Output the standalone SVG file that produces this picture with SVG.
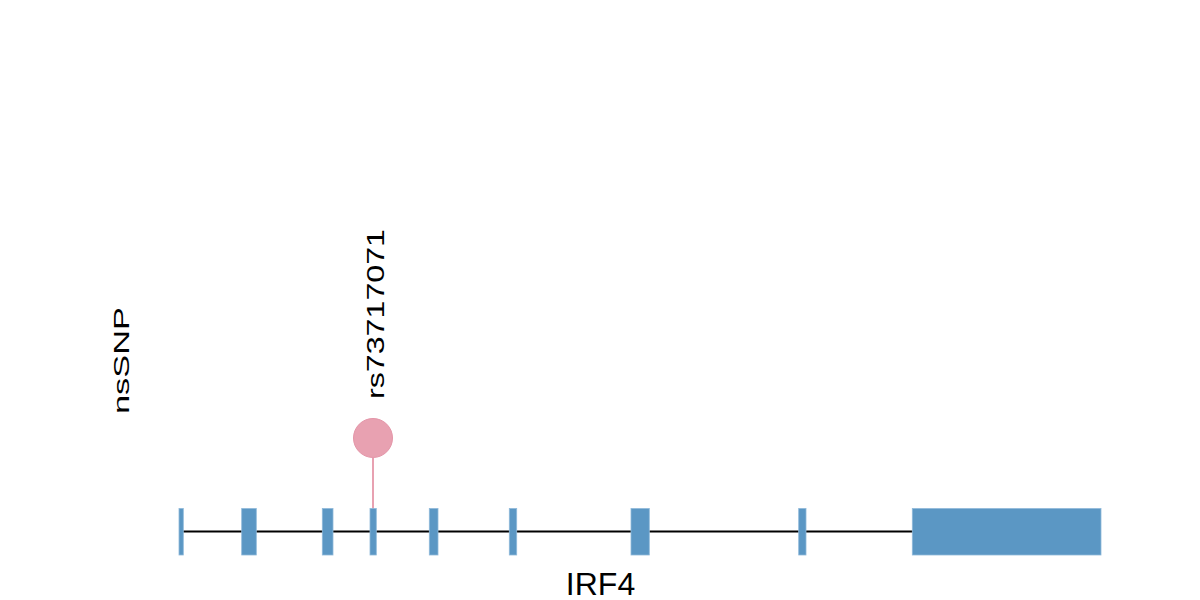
<svg xmlns="http://www.w3.org/2000/svg" width="1200" height="600" viewBox="0 0 1200 600">
<style>
.exon{fill:#5B97C4;stroke:#8FB9DA;stroke-width:0.8}
.lbl{font-family:"Liberation Sans",Arial,sans-serif;fill:#000}
</style>
<rect width="1200" height="600" fill="#fff"/>
<g id="connectors">
<line x1="181" y1="531.5" x2="913" y2="531.5" stroke="#000" stroke-width="2"/>
<line id="stick" x1="373" y1="458" x2="373" y2="531" stroke="#E8A1B1" stroke-width="2"/>
</g>
<g id="exons">
<rect class="exon" x="179" y="508.5" width="4.3" height="46.5"/>
<rect class="exon" x="241.7" y="508.5" width="14.6" height="46.5"/>
<rect class="exon" x="322.3" y="508.5" width="10.7" height="46.5"/>
<rect class="exon" x="370" y="508.5" width="6.3" height="46.5"/>
<rect class="exon" x="429.3" y="508.5" width="8.7" height="46.5"/>
<rect class="exon" x="509.3" y="508.5" width="7.4" height="46.5"/>
<rect class="exon" x="631" y="508.5" width="18.3" height="46.5"/>
<rect class="exon" x="798.7" y="508.5" width="7.3" height="46.5"/>
<rect class="exon" x="912.3" y="508.5" width="188.7" height="46.5"/>
</g>
<g id="snp">
<circle cx="373" cy="438" r="19.5" fill="#E8A1B1" stroke="#E495A8" stroke-width="1"/>
<text class="lbl" transform="translate(383.5,399) rotate(-90)" font-size="24" textLength="170" lengthAdjust="spacingAndGlyphs">rs73717071</text>
</g>
<g id="track-label">
<text class="lbl" transform="translate(128.5,414) rotate(-90)" font-size="22" textLength="107" lengthAdjust="spacingAndGlyphs">nsSNP</text>
</g>
<g id="gene-label">
<text class="lbl" x="600.5" y="595" font-size="32" text-anchor="middle">IRF4</text>
</g>
</svg>
